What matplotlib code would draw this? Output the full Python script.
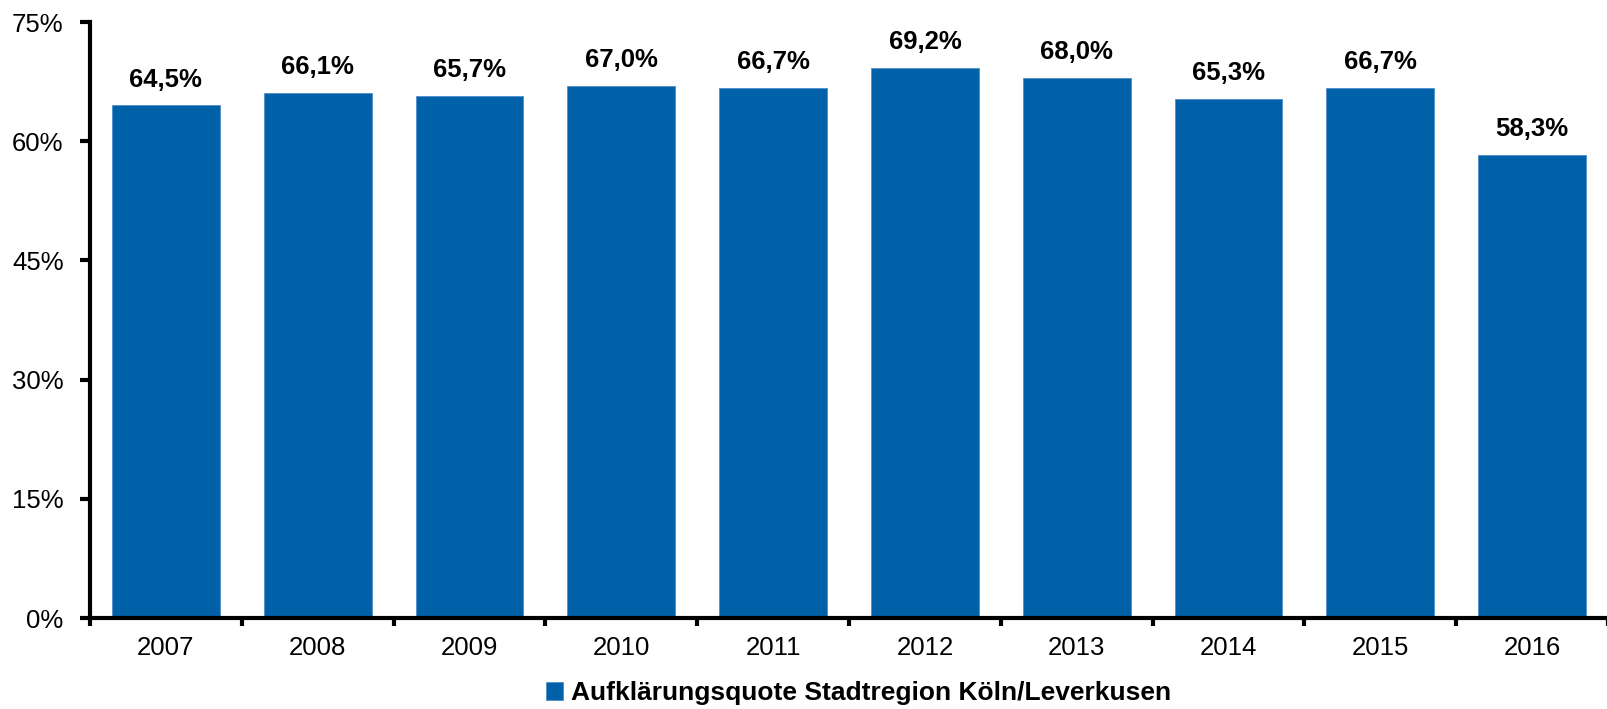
import matplotlib.pyplot as plt
import numpy as np

# Data
years = ["2007", "2008", "2009", "2010", "2011", "2012", "2013", "2014", "2015", "2016"]
quote = [64.5, 66.1, 65.7, 67.0, 66.7, 69.2, 68.0, 65.3, 66.7, 58.3]
yticks = [0, 15, 30, 45, 60, 75]
legend_label = "Aufklärungsquote Stadtregion Köln/Leverkusen"

plt.rcParams["font.family"] = ["Liberation Sans", "DejaVu Sans"]

fig = plt.figure(figsize=(16.08, 7.09), dpi=100)
left = 90 / 1608
ax = fig.add_axes([left, 91 / 709, 1 - left, (618 - 22) / 709])

x = np.arange(len(years))
bars = ax.bar(x, quote, width=0.71, color="#0060A8", edgecolor="#4f8fc8", linewidth=0.6,
              label=legend_label, zorder=2)

# value labels with German decimal comma
for xi, v in zip(x, quote):
    ax.annotate(f"{v:.1f}%".replace(".", ","), xy=(xi, v), xytext=(0, 10),
                textcoords="offset points", ha="center", va="bottom",
                fontsize=18.5, fontweight="bold")

ax.set_ylim(0, 75)
ax.set_yticks(yticks)
ax.set_yticklabels([f"{t}%" for t in yticks], fontsize=18.5)
ax.set_xlim(-0.5, -0.5 + 1518 / 152.2)
ax.set_xticks(x)
ax.set_xticklabels(years, fontsize=18.5)
ax.set_xticks(np.arange(len(years) + 1) - 0.5, minor=True)
ax.tick_params(axis="x", which="major", length=0, pad=13)
ax.tick_params(axis="x", which="minor", length=6, width=3, direction="out")
ax.tick_params(axis="y", length=7, width=3, direction="out", pad=12)

for s in ["top", "right"]:
    ax.spines[s].set_visible(False)
ax.spines["left"].set_linewidth(3)
ax.spines["bottom"].set_linewidth(3)

fig.legend(handles=[bars], labels=[legend_label], loc="lower center",
           bbox_to_anchor=(0.534, 0.0), borderaxespad=0, borderpad=0.15,
           frameon=False, handlelength=0.65, handleheight=0.65, handletextpad=0.3,
           prop={"size": 19, "weight": "bold"})

plt.savefig("out.png", dpi=100)
